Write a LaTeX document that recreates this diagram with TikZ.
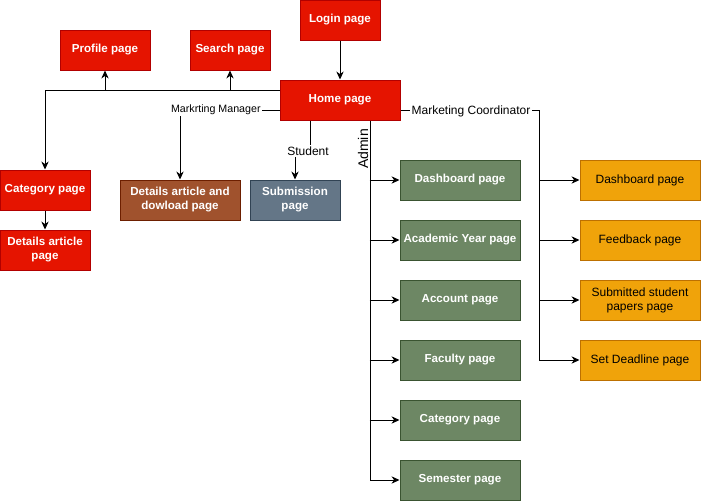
\documentclass[tikz,border=0pt]{standalone}
\usepackage{fontspec}
\setmainfont{Liberation Sans}
\usetikzlibrary{arrows.meta}

\definecolor{RedFill}{HTML}{E51400}
\definecolor{RedLine}{HTML}{B20000}
\definecolor{BrownFill}{HTML}{A0522D}
\definecolor{BrownLine}{HTML}{6D1F00}
\definecolor{SlateFill}{HTML}{647687}
\definecolor{SlateLine}{HTML}{314354}
\definecolor{GreenFill}{HTML}{6D8764}
\definecolor{GreenLine}{HTML}{3A5431}
\definecolor{OrangeFill}{HTML}{F0A30A}
\definecolor{OrangeLine}{HTML}{BD7000}

\begin{document}
\begin{tikzpicture}[x=0.75pt, y=-0.75pt, line width=0.75pt,
      page/.style={draw, minimum height=30pt, inner sep=1pt, align=center,
        text=white, font=\bfseries\fontsize{8.7}{10.5}\selectfont},
      redpage/.style={page, fill=RedFill, draw=RedLine},
      adminpage/.style={page, fill=GreenFill, draw=GreenLine, minimum width=90pt},
      coordpage/.style={page, fill=OrangeFill, draw=OrangeLine, minimum width=90pt,
        text=black, font=\fontsize{9}{10.5}\selectfont},
      link/.style={-{Stealth[length=6pt,width=5.5pt]}},
      role/.style={fill=white, inner sep=1pt, font=\fontsize{9}{10.5}\selectfont}]
    \useasboundingbox (0,0) rectangle (701,501);

    % top part
    \node (login) [redpage, minimum width=60pt] at (340,20) {Login page};
    \node (profile) [redpage, minimum width=67.5pt] at (105,50) {Profile page};
    \node (search) [redpage, minimum width=60pt] at (230,50) {Search page};
    \node (home) [redpage, minimum width=90pt] at (340,100) {Home page};
    \node (catred) [redpage, minimum width=67.5pt] at (45,190) {Category page};
    \node (artred) [redpage, minimum width=67.5pt] at (45,250) {Details article\\page};
    \node (download) [page, fill=BrownFill, draw=BrownLine, minimum width=90pt] at (180,200) {Details article and\\dowload page};
    \node (submission) [page, fill=SlateFill, draw=SlateLine, minimum width=67.5pt] at (295,200) {Submission\\page};

    % admin pages
    \node (dashA) [adminpage] at (460,180) {Dashboard page};
    \node (year) [adminpage] at (460,240) {Academic Year page};
    \node (account) [adminpage] at (460,300) {Account page};
    \node (faculty) [adminpage] at (460,360) {Faculty page};
    \node (category) [adminpage] at (460,420) {Category page};
    \node (semester) [adminpage] at (460,480) {Semester page};

    % coordinator pages
    \node (dashB) [coordpage] at (640,180) {Dashboard page};
    \node (feedback) [coordpage] at (640,240) {Feedback page};
    \node (submitted) [coordpage] at (640,300) {Submitted student\\papers page};
    \node (deadline) [coordpage] at (640,360) {Set Deadline page};

    \draw[link] (login) -- (home);
    \coordinate (bus) at ([yshift=7.5pt]home.west);
    \draw[link] (bus) -| (catred.north);
    \draw[link] (bus -| profile.south) -- (profile.south);
    \draw[link] (bus -| search.south) -- (search.south);
    \draw[link] (catred) -- (artred);

    \draw[link] ([yshift=-7.5pt]home.west) -| (download.north)
      node [role, pos=0.32, font=\fontsize{8}{9.5}\selectfont] {Markrting Manager};

    \coordinate (jog) at (302,150);
    \draw[link] ([xshift=-22.5pt]home.south) |- (jog) -| (submission.north);
    \node (student) [role] at (308,151) {Student};

    \draw[link] ([xshift=22.5pt]home.south) |- (semester.west);
    \node (admin) [rotate=90, inner sep=0pt, font=\fontsize{10.5}{12}\selectfont] at (363,149) {Admin};
    \foreach \n in {dashA,year,account,faculty,category}
      \draw[link] ([xshift=-22.5pt]\n.west) -- (\n.west);

    \draw[link] ([yshift=-7.5pt]home.east) -| ([xshift=-30pt]deadline.west) -- (deadline.west);
    \node (coord) [role] at (471,111) {Marketing Coordinator};
    \foreach \n in {dashB,feedback,submitted}
      \draw[link] ([xshift=-30pt]\n.west) -- (\n.west);
  \end{tikzpicture}
\end{document}
